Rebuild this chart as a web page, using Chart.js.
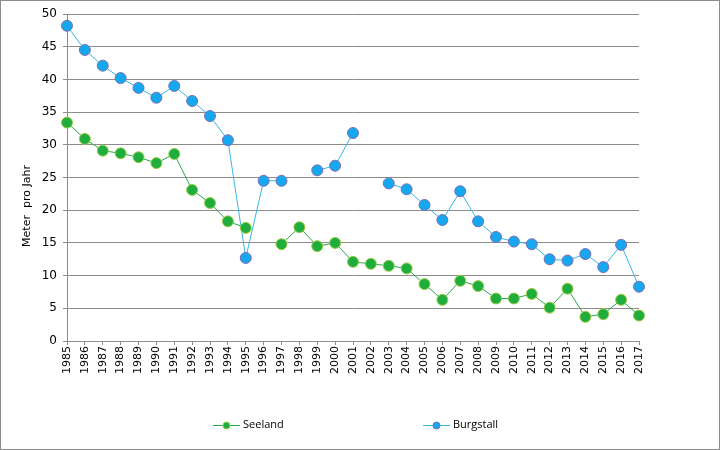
<!DOCTYPE html>
<html>
<head>
<meta charset="utf-8">
<script src="https://cdn.jsdelivr.net/npm/chart.js@4/dist/chart.umd.min.js"></script>
<style>
  html, body { margin: 0; padding: 0; background: #fff; }
  #wrap { width: 720px; height: 450px; }
</style>
</head>
<body>
<div id="wrap"><canvas id="chart" width="720" height="450"></canvas></div>
<script>
// Daten
const years = [];
for (let y = 1985; y <= 2017; y++) years.push(String(y));

const seeland = [33.4, 30.9, 29.1, 28.7, 28.1, 27.2, 28.6, 23.1, 21.1, 18.3, 17.3,
  null, 14.8, 17.4, 14.5, 15.0, 12.1, 11.8, 11.5, 11.1, 8.7, 6.3, 9.2, 8.4, 6.5,
  6.5, 7.2, 5.1, 8.0, 3.7, 4.1, 6.3, 3.9];

const burgstall = [48.2, 44.5, 42.1, 40.2, 38.7, 37.2, 39.0, 36.7, 34.4, 30.7, 12.7,
  24.5, 24.5, null, 26.1, 26.8, 31.8, null, 24.1, 23.2, 20.8, 18.5, 22.9, 18.3, 15.9,
  15.2, 14.8, 12.5, 12.3, 13.3, 11.3, 14.7, 8.3];

const yTicks = [0, 5, 10, 15, 20, 25, 30, 35, 40, 45, 50];
const yTitle = "Meter  pro Jahr";

// Titel der y-Achse, Legende und Rahmen
const extras = {
  id: 'extras',
  afterDraw(chart) {
    const ctx = chart.ctx;
    ctx.save();
    ctx.strokeStyle = "#8c8c8c";
    ctx.lineWidth = 1;
    ctx.strokeRect(0.5, 0.5, chart.width - 1, chart.height - 1);

    ctx.fillStyle = "#000";
    ctx.font = "11px 'DejaVu Sans'";
    ctx.textAlign = "center";
    ctx.textBaseline = "middle";
    ctx.translate(27, 206);
    ctx.rotate(-Math.PI / 2);
    ctx.fillText(yTitle, 0, 0);
    ctx.restore();

    const items = [{ ds: 0, x: 213 }, { ds: 1, x: 423 }];
    items.forEach(it => {
      const d = chart.data.datasets[it.ds];
      const y = 425;
      ctx.save();
      ctx.strokeStyle = d.borderColor;
      ctx.lineWidth = 1;
      ctx.beginPath();
      ctx.moveTo(it.x, y + 0.5);
      ctx.lineTo(it.x + 27, y + 0.5);
      ctx.stroke();
      ctx.beginPath();
      ctx.arc(it.x + 13.5, y + 0.5, 3.5, 0, Math.PI * 2);
      ctx.fillStyle = d.pointBackgroundColor;
      ctx.fill();
      ctx.strokeStyle = d.pointBorderColor;
      ctx.stroke();
      ctx.fillStyle = "#000";
      ctx.font = "11px 'Open Sans'";
      ctx.textAlign = "left";
      ctx.textBaseline = "middle";
      ctx.fillText(d.label, it.x + 30, y);
      ctx.restore();
    });
  }
};

new Chart(document.getElementById("chart"), {
  type: "line",
  data: {
    labels: years,
    datasets: [
      {
        label: "Seeland",
        data: seeland,
        borderColor: "#2aa851",
        borderWidth: 1,
        pointBackgroundColor: "#1fae3d",
        pointBorderColor: "#9ccc45",
        pointBorderWidth: 1,
        pointRadius: 5.5,
        spanGaps: false,
        tension: 0
      },
      {
        label: "Burgstall",
        data: burgstall,
        borderColor: "#3bb6e3",
        borderWidth: 1,
        pointBackgroundColor: "#16a8ef",
        pointBorderColor: "#7a6fb4",
        pointBorderWidth: 1,
        pointRadius: 5.5,
        spanGaps: false,
        tension: 0
      }
    ]
  },
  options: {
    responsive: false,
    animation: false,
    layout: { padding: { left: 0, right: 81, top: 14, bottom: 69 } },
    plugins: { legend: { display: false }, tooltip: { enabled: false } },
    scales: {
      x: {
        offset: false,
        afterFit(scale) { scale.height = 40; },
        grid: { drawOnChartArea: false, drawTicks: true, tickLength: 4, color: "#8c8c8c" },
        border: { color: "#8c8c8c" },
        ticks: {
          autoSkip: false, minRotation: 90, maxRotation: 90, padding: 1,
          color: "#000", font: { family: "DejaVu Sans", size: 11 }
        }
      },
      y: {
        min: 0,
        max: 50,
        afterFit(scale) { scale.width = 67; },
        afterBuildTicks(scale) { scale.ticks = yTicks.map(v => ({ value: v })); },
        grid: { color: "#8c8c8c", tickLength: 4 },
        border: { color: "#8c8c8c" },
        ticks: { padding: 6, color: "#000", font: { family: "DejaVu Sans", size: 12 } }
      }
    }
  },
  plugins: [extras]
});
</script>
</body>
</html>
